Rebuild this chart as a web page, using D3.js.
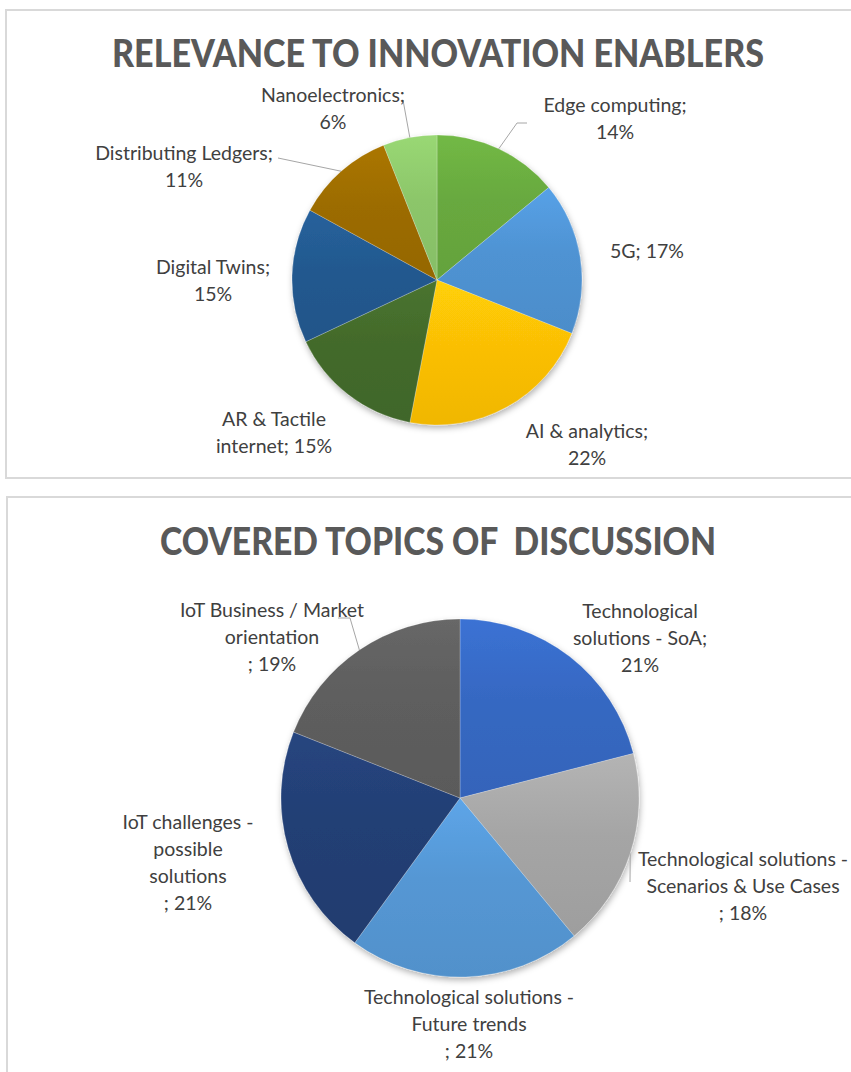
<!DOCTYPE html>
<html>
<head>
<meta charset="utf-8">
<script src="https://cdn.jsdelivr.net/npm/d3@7"></script>
<style>
  body { margin: 0; background: #fff; }
  svg text { font-family: Lato, "Noto Sans", sans-serif; fill: #404040; }
</style>
</head>
<body>
<script>
// ---- data ----
let enablerNames = ["Edge computing", "5G", "AI & analytics", "AR & Tactile internet", "Digital Twins", "Distributing Ledgers", "Nanoelectronics"]
let enablerValues = [14, 17, 22, 15, 15, 11, 6]
// label text, "|" = line break, {p} = value
let enablerLabels = ["Edge computing;|{p}%", "5G; {p}%", "AI & analytics;|{p}%", "AR & Tactile|internet; {p}%", "Digital Twins;|{p}%", "Distributing Ledgers;|{p}%", "Nanoelectronics;|{p}%"]

let topicNames = ["Technological solutions - SoA", "Technological solutions - Scenarios & Use Cases", "Technological solutions - Future trends", "IoT challenges - possible solutions", "IoT Business / Market orientation"]
let topicValues = [21, 18, 21, 21, 19]
let topicLabels = ["Technological|solutions - SoA;|{p}%", "Technological solutions -|Scenarios & Use Cases|; {p}%", "Technological solutions -|Future trends|; {p}%", "IoT challenges -|possible|solutions|; {p}%", "IoT Business / Market|orientation|; {p}%"]

// ---- styles / layout ----
let enablerColors = ["#68a93f", "#4f93d3", "#fbbf06", "#436a2b", "#23598f", "#9c6c00", "#8cc66a"]
let topicColors = ["#3668c2", "#a5a5a5", "#5597d4", "#233f74", "#5e5e5e"]

let width = 851, height = 1072

let svg = d3.select('body').append('svg')
  .attr('width', width)
  .attr('height', height)

let defs = svg.append('defs')
let shadow = defs.append('filter').attr('id', 'shadow')
  .attr('x', '-10%').attr('y', '-10%').attr('width', '120%').attr('height', '125%')
shadow.append('feDropShadow')
  .attr('dx', 1).attr('dy', 3).attr('stdDeviation', 3)
  .attr('flood-color', '#000').attr('flood-opacity', 0.3)

// panels
svg.append('rect').attr('x', 6).attr('y', 10).attr('width', 860).attr('height', 468)
  .attr('fill', '#fff').attr('stroke', '#d9d9d9').attr('stroke-width', 2)
svg.append('rect').attr('x', 7).attr('y', 497).attr('width', 860).attr('height', 600)
  .attr('fill', '#fff').attr('stroke', '#d9d9d9').attr('stroke-width', 2)

function drawPie(opt) {
  let pie = d3.pie().sort(null).value(d => d)
  let arcs = pie(opt.values)
  let arc = d3.arc().innerRadius(0).outerRadius(opt.r)

  let g = svg.append('g').attr('transform', `translate(${opt.cx},${opt.cy})`)

  opt.colors.forEach((c, i) => {
    let grad = defs.append('linearGradient').attr('id', opt.id + i)
      .attr('x1', 0).attr('x2', 0).attr('y1', 0).attr('y2', 1)
    grad.append('stop').attr('offset', '0%').attr('stop-color', d3.color(c).brighter(0.25))
    grad.append('stop').attr('offset', '45%').attr('stop-color', c)
    grad.append('stop').attr('offset', '100%').attr('stop-color', d3.color(c).darker(0.12))
  })

  g.append('g').attr('filter', 'url(#shadow)')
    .selectAll('path')
    .data(arcs)
    .enter().append('path')
    .attr('d', arc)
    .attr('fill', (d, i) => `url(#${opt.id}${i})`)
    .attr('stroke', 'rgba(255,255,255,0.3)')
    .attr('stroke-width', 0.75)

  // leader lines: from slice edge at mid angle to label
  opt.leaders.forEach(ld => {
    let a = arcs[ld.i]
    let mid = (a.startAngle + a.endAngle) / 2
    let p0 = [Math.sin(mid) * opt.r, -Math.cos(mid) * opt.r]
    let pts = [p0].concat(ld.pts)
    g.append('path')
      .attr('d', d3.line()(pts))
      .attr('fill', 'none')
      .attr('stroke', '#a6a6a6')
      .attr('stroke-width', 1)
  })

  g.selectAll('text.lbl')
    .data(arcs)
    .enter().append('text')
    .attr('class', 'lbl')
    .attr('text-anchor', 'middle')
    .style('font-size', opt.fontSize + 'px')
    .attr('transform', (d, i) => `translate(${opt.labelPos[i][0]},${opt.labelPos[i][1]})`)
    .each(function (d, i) {
      let lines = opt.labels[i].replace('{p}', d.value).split('|')
      d3.select(this).selectAll('tspan')
        .data(lines)
        .enter().append('tspan')
        .attr('x', 0)
        .attr('y', (l, j) => j * opt.lineH)
        .text(l => l)
    })
}

svg.append('text')
  .attr('x', 438).attr('y', 67)
  .attr('text-anchor', 'middle')
  .attr('textLength', 652).attr('lengthAdjust', 'spacingAndGlyphs')
  .style('font-size', '37px').style('font-weight', 900).style('fill', '#595959')
  .text('RELEVANCE TO INNOVATION ENABLERS')

drawPie({
  id: 'en', cx: 437, cy: 280, r: 145,
  values: enablerValues, colors: enablerColors, labels: enablerLabels,
  fontSize: 19.5, lineH: 27,
  labelPos: [[178, -168], [210, -22], [150, 158], [-163, 146], [-224, -6], [-253, -120], [-104, -178]],
  leaders: [
    {i: 0, pts: [[80, -157], [90, -157]]},
    {i: 5, pts: [[-159, -122]]},
    {i: 6, pts: [[-34, -180]]}
  ]
})

svg.append('text')
  .attr('x', 438).attr('y', 555)
  .attr('text-anchor', 'middle')
  .attr('textLength', 556).attr('lengthAdjust', 'spacingAndGlyphs')
  .style('font-size', '37px').style('font-weight', 900).style('fill', '#595959')
  .style('white-space', 'pre')
  .text('COVERED TOPICS OF  DISCUSSION')

drawPie({
  id: 'tp', cx: 460, cy: 798, r: 179,
  values: topicValues, colors: topicColors, labels: topicLabels,
  fontSize: 19.5, lineH: 27,
  labelPos: [[180, -180], [283, 68], [9, 206], [-272, 31], [-188, -181]],
  leaders: [
    {i: 1, pts: [[170, 84]]},
    {i: 4, pts: [[-110, -180], [-122, -180]]}
  ]
})
</script>
</body>
</html>
